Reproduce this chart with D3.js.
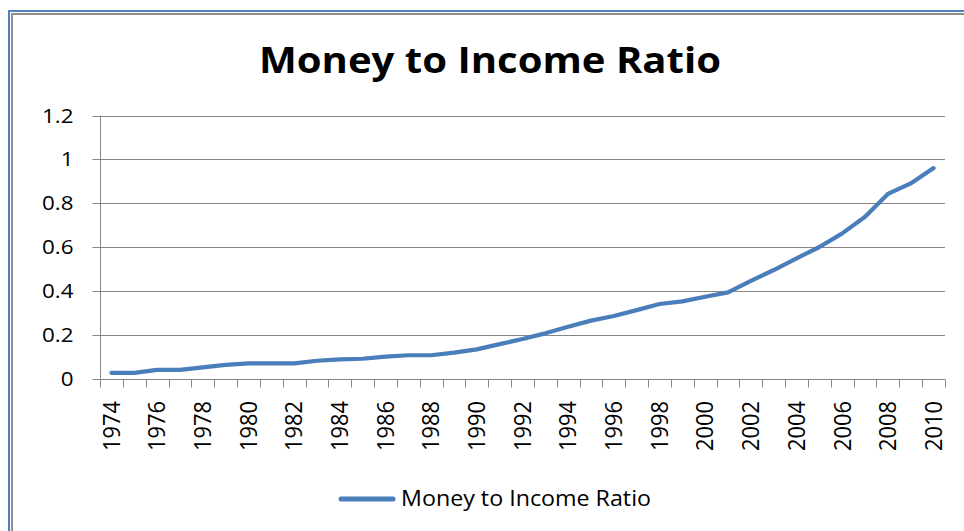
<!DOCTYPE html>
<html>
<head>
<meta charset="utf-8">
<script src="https://cdn.jsdelivr.net/npm/d3@7"></script>
<style>
  html, body { margin: 0; padding: 0; background: #fff; }
  svg { display: block; }
  text { font-family: "Open Sans", "Noto Sans", sans-serif; fill: #000; }
</style>
</head>
<body>
<svg id="chart" width="964" height="531"></svg>
<script>
// Money to income ratio, yearly
const years = d3.range(1974, 2011);
const ratio = [
  0.026, 0.026, 0.039, 0.039, 0.051, 0.062, 0.069, 0.069, 0.069, 0.081,
  0.087, 0.090, 0.100, 0.106, 0.106, 0.118, 0.133, 0.157, 0.180, 0.206,
  0.236, 0.264, 0.285, 0.312, 0.340, 0.352, 0.373, 0.393, 0.445, 0.495,
  0.548, 0.600, 0.662, 0.738, 0.842, 0.890, 0.960
];
const yTicks = [0, 0.2, 0.4, 0.6, 0.8, 1, 1.2];
const xLabelYears = years.filter(y => (y - 1974) % 2 === 0);
const seriesName = "Money to Income Ratio";
const chartTitle = "Money to Income Ratio";

const svg = d3.select("#chart");
const lineColor = "#4a7ebb";
const gridColor = "#868686";
const widen = 1.12; // horizontal glyph stretch used for all chart text

// chart frame: blue outer rule with a grey inner rule
svg.append("rect").attr("x", 9).attr("y", 11).attr("width", 1000).attr("height", 600)
  .attr("fill", "none").attr("stroke", "#4f81bd").attr("stroke-width", 2);
svg.append("rect").attr("x", 12).attr("y", 14).attr("width", 1000).attr("height", 600)
  .attr("fill", "none").attr("stroke", "#8e8e8e").attr("stroke-width", 2);

const plotLeft = 100, plotRight = 945, plotTop = 115.5, plotBottom = 378.5;

const x = d3.scaleBand().domain(years).range([plotLeft, plotRight]).padding(0);
const y = d3.scaleLinear().domain([0, 1.2]).range([plotBottom, plotTop]);
const snap = v => Math.round(v) + 0.5;

// title
svg.append("text")
  .attr("x", 490).attr("y", 73)
  .attr("text-anchor", "middle")
  .style("font-size", "36px").style("font-weight", "bold")
  .attr("textLength", 462).attr("lengthAdjust", "spacingAndGlyphs")
  .text(chartTitle);

// horizontal gridlines
svg.append("g")
  .selectAll("line").data(yTicks).join("line")
  .attr("x1", plotLeft).attr("x2", plotRight)
  .attr("y1", d => snap(y(d))).attr("y2", d => snap(y(d)))
  .attr("stroke", gridColor).attr("stroke-width", 1);

// y axis
const yAxis = svg.append("g")
  .attr("transform", `translate(${plotLeft + 0.5},0)`)
  .call(d3.axisLeft(y).tickValues(yTicks).tickSize(8).tickPadding(19)
    .tickFormat(d => String(+d.toFixed(1))));
yAxis.select(".domain").attr("stroke", gridColor).attr("d", `M0,${plotTop}V${plotBottom}`);
yAxis.selectAll(".tick line").attr("stroke", gridColor);
yAxis.selectAll(".tick").attr("transform", d => `translate(0,${snap(y(d))})`);
yAxis.selectAll(".tick text")
  .style("font-size", "20px").attr("fill", "#000")
  .attr("transform", `translate(-27,0) scale(${widen},1) translate(27,0)`);

// x axis: boundary ticks between categories, labels every other year
const boundaries = years.map(d => x(d)).concat([plotRight]);
svg.append("g")
  .selectAll("line").data(boundaries).join("line")
  .attr("x1", d => snap(d)).attr("x2", d => snap(d))
  .attr("y1", snap(plotBottom)).attr("y2", snap(plotBottom) + 8)
  .attr("stroke", gridColor);

const xAxis = svg.append("g")
  .attr("transform", `translate(0,${plotBottom})`)
  .call(d3.axisBottom(x).tickValues(xLabelYears).tickSize(0).tickPadding(0));
xAxis.select(".domain").remove();
xAxis.selectAll(".tick text")
  .style("font-size", "23px").attr("fill", "#000")
  .attr("text-anchor", "end")
  .attr("transform", "translate(0,22.5) rotate(-90)")
  .attr("textLength", 50).attr("lengthAdjust", "spacingAndGlyphs")
  .attr("x", 0).attr("y", 0).attr("dy", "0.36em");

// series line
const line = d3.line()
  .x((d, i) => x(years[i]) + x.bandwidth() / 2)
  .y(d => y(d));
svg.append("path")
  .datum(ratio)
  .attr("d", line)
  .attr("fill", "none")
  .attr("stroke", lineColor)
  .attr("stroke-width", 4.2)
  .attr("stroke-linejoin", "round")
  .attr("stroke-linecap", "round");

// legend
const legend = svg.append("g");
legend.append("line")
  .attr("x1", 341).attr("x2", 393).attr("y1", 499).attr("y2", 499)
  .attr("stroke", lineColor).attr("stroke-width", 5).attr("stroke-linecap", "round");
legend.append("text")
  .attr("x", 401).attr("y", 506)
  .style("font-size", "21px")
  .attr("textLength", 250).attr("lengthAdjust", "spacingAndGlyphs")
  .text(seriesName);
</script>
</body>
</html>
